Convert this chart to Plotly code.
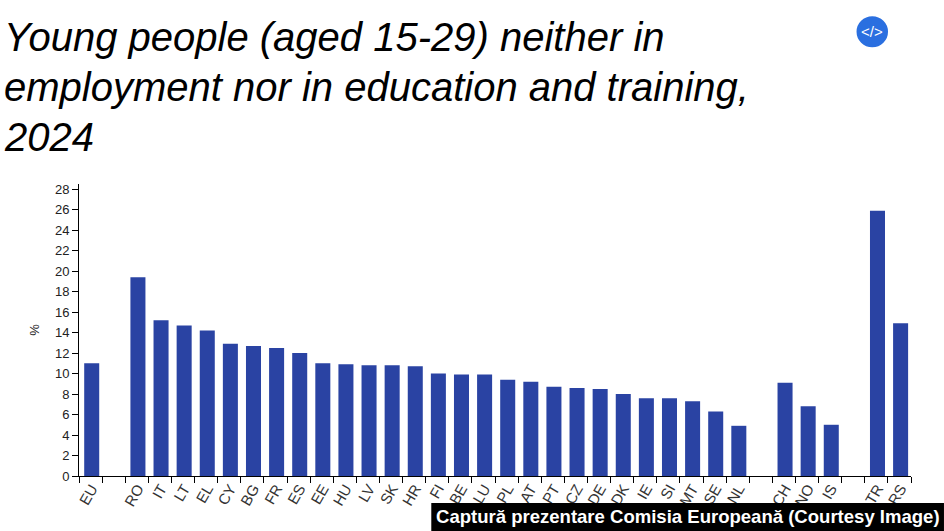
import plotly.graph_objects as go

categories = ["EU", " ", "RO", "IT", "LT", "EL", "CY", "BG", "FR", "ES", "EE", "HU", "LV", "SK", "HR",
              "FI", "BE", "LU", "PL", "AT", "PT", "CZ", "DE", "DK", "IE", "SI", "MT", "SE", "NL",
              "  ", "CH", "NO", "IS", "   ", "TR", "RS"]
values = [11.0, None, 19.4, 15.2, 14.7, 14.2, 12.9, 12.7, 12.5, 12.0, 11.0, 10.9, 10.8, 10.8, 10.7,
          10.0, 9.9, 9.9, 9.4, 9.2, 8.7, 8.6, 8.5, 8.0, 7.6, 7.6, 7.3, 6.3, 4.9,
          None, 9.1, 6.8, 5.0, None, 25.9, 14.9]
y_ticks = list(range(0, 30, 2))
title_lines = ["Young people (aged 15-29) neither in",
               "employment nor in education and training,",
               "2024"]
caption = "Captură prezentare Comisia Europeană (Courtesy Image)"

W, H = 944, 531
L, R, T, B = 78.5, 911, 183.5, 476


def px(x):
    return (x - L) / (R - L)


def py(y):
    return (B - y) / (B - T)


fig = go.Figure(go.Bar(x=categories, y=values, marker=dict(color="#2a43a3", line_width=0),
                       width=0.65, offset=-0.275))

annotations = [
    dict(text=line, xref="paper", yref="paper", x=px(1), y=py(36 + 50 * i), xanchor="left", yanchor="middle",
         showarrow=False, font=dict(size=40, color="black", style="italic"))
    for i, line in enumerate(title_lines)
]
annotations += [
    dict(text=caption, xref="paper", yref="paper", x=px(687.5), y=py(517),
         xanchor="center", yanchor="middle", showarrow=False,
         font=dict(size=18.55, color="white", weight="bold")),
    dict(text="&lt;/&gt;", xref="paper", yref="paper", x=px(872.2), y=py(30.5),
         xanchor="center", yanchor="middle", showarrow=False,
         font=dict(size=15, color="white")),
]

fig.update_layout(
    width=W, height=H, autosize=False, showlegend=False,
    paper_bgcolor="white", plot_bgcolor="white",
    margin=dict(l=L, r=W - R, t=T, b=H - B, pad=0),
    font=dict(family="Liberation Sans, Arial, sans-serif", color="#222222"),
    xaxis=dict(type="category", categoryorder="array", categoryarray=categories, range=[-0.5, 35.5],
               tickson="boundaries", ticks="outside", ticklen=6, tickcolor="black", tickwidth=1,
               showline=True, linecolor="black", linewidth=1, showgrid=False, tickangle=-60,
               tickfont=dict(size=15, color="#333333"), zeroline=False, ticklabelstandoff=-3,
               ticklabelshift=1),
    yaxis=dict(range=[0, 28.5], tickvals=y_ticks, ticks="outside", ticklen=6, tickcolor="black", tickwidth=1,
               showline=True, linecolor="black", linewidth=1, showgrid=False, zeroline=False,
               tickfont=dict(size=13, color="#222222"),
               title=dict(text="%", font=dict(size=13, color="#222222"), standoff=12)),
    shapes=[
        dict(type="rect", xref="paper", yref="paper", x0=px(431), x1=px(944),
             y0=py(531), y1=py(503), fillcolor="black", line_width=0, layer="above"),
        dict(type="circle", xref="paper", yref="paper", x0=px(856.5), x1=px(888),
             y0=py(46.5), y1=py(15.5), fillcolor="#2a6fe0", line_width=0, layer="above"),
    ],
    annotations=annotations,
)

fig.write_html("out.html", config=dict(displayModeBar=False),
               post_script="document.body.style.margin='0';document.body.style.overflow='hidden';")
